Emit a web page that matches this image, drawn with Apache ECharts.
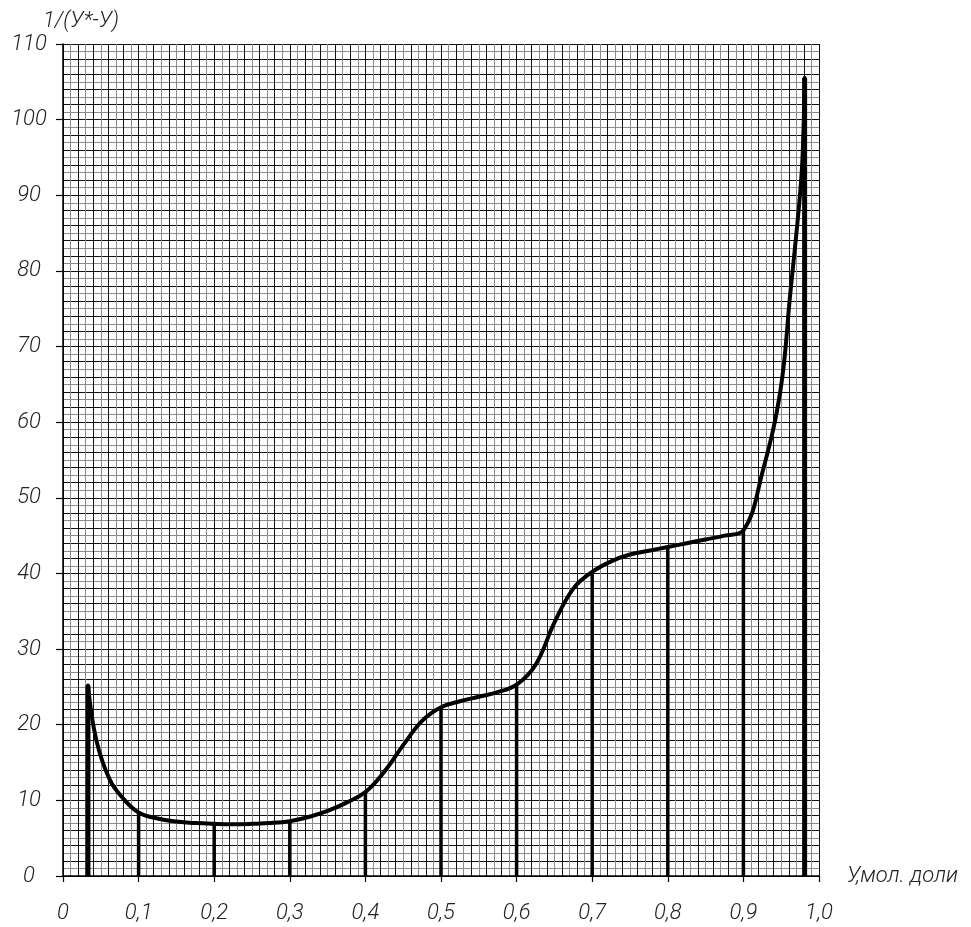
<!DOCTYPE html>
<html>
<head>
<meta charset="utf-8">
<script src="https://cdn.jsdelivr.net/npm/echarts@6/dist/echarts.min.js"></script>
<style>
html,body{margin:0;padding:0;background:#fff;}
#chart{width:971px;height:927px;}
</style>
</head>
<body>
<div id="chart"></div>
<script>
// Curve 1/(y*-y) versus y
const curveX = [0.033, 0.044, 0.062, 0.08, 0.1, 0.125, 0.15, 0.175, 0.2, 0.225, 0.25, 0.275, 0.3, 0.325, 0.35, 0.375, 0.4, 0.425, 0.45, 0.475, 0.5, 0.525, 0.55, 0.575, 0.6, 0.625, 0.65, 0.675, 0.7, 0.725, 0.75, 0.775, 0.8, 0.825, 0.85, 0.875, 0.9, 0.925, 0.949, 0.962, 0.973, 0.978, 0.981];
const curveY = [25.2, 18, 12.7, 10.2, 8.4, 7.6, 7.2, 7.0, 6.9, 6.85, 6.9, 7.0, 7.25, 7.8, 8.6, 9.7, 11.1, 13.8, 17.3, 20.5, 22.3, 23.1, 23.7, 24.3, 25.3, 27.9, 33.5, 38.0, 40.2, 41.6, 42.5, 43.0, 43.5, 44.0, 44.5, 45.0, 45.7, 53.3, 64.2, 77, 88, 94.6, 105.5];
// Vertical ordinates
const barX = [0.033, 0.1, 0.2, 0.3, 0.4, 0.5, 0.6, 0.7, 0.8, 0.9, 0.981];
const barTop = [25.2, 8.4, 6.9, 7.25, 11.1, 22.3, 25.3, 40.2, 43.5, 45.7, 105.5];
const xTickLabels = ['0', '0,1', '0,2', '0,3', '0,4', '0,5', '0,6', '0,7', '0,8', '0,9', '1,0'];
const yTitle = '1/(У*-У)';
const xTitle = 'У,мол. доли';

const FONT = "Roboto, 'DejaVu Sans', sans-serif";
const textStyle = {fontFamily: FONT, fontStyle: 'italic', fontWeight: 300, fontSize: 22, color: '#222'};

const chart = echarts.init(document.getElementById('chart'), null, {renderer: 'canvas'});
const gridColors = ['#111', '#8a8a8a'];

const option = {
  animation: false,
  backgroundColor: '#fff',
  grid: {left: 63, right: 152, top: 44, bottom: 51, containLabel: false},
  xAxis: [
    {
      type: 'value', min: 0, max: 1, interval: 0.1,
      name: xTitle, nameLocation: 'end', nameGap: 28,
      nameTextStyle: Object.assign({}, textStyle, {align: 'left', verticalAlign: 'middle', padding: [0, 0, 10, 0]}),
      axisLine: {show: true, onZero: false, lineStyle: {color: '#000', width: 1.5}},
      axisTick: {show: true, length: 6, lineStyle: {color: '#000', width: 1.2}},
      axisLabel: Object.assign({}, textStyle, {margin: 26, formatter: function (v) { return xTickLabels[Math.round(v * 10)]; }}),
      splitLine: {show: false}
    },
    {
      type: 'value', min: 0, max: 1, interval: 0.01, position: 'bottom',
      axisLine: {show: false}, axisTick: {show: false}, axisLabel: {show: false},
      splitLine: {show: true, lineStyle: {color: gridColors, width: 1}}
    }
  ],
  yAxis: [
    {
      type: 'value', min: 0, max: 110, interval: 10,
      name: yTitle, nameLocation: 'end', nameGap: 12,
      nameTextStyle: Object.assign({}, textStyle, {align: 'left', verticalAlign: 'bottom', padding: [0, 0, 0, -20]}),
      axisLine: {show: true, onZero: false, lineStyle: {color: '#000', width: 1.5}},
      axisTick: {show: true, length: 7, lineStyle: {color: '#000', width: 1.2}},
      axisLabel: Object.assign({}, textStyle, {margin: 34, align: 'center'}),
      splitLine: {show: false}
    },
    {
      type: 'value', min: 0, max: 110, interval: 1, position: 'left',
      axisLine: {show: false}, axisTick: {show: false}, axisLabel: {show: false},
      splitLine: {show: true, lineStyle: {color: gridColors, width: 1}}
    }
  ],
  series: [
    {
      type: 'custom',
      xAxisIndex: 0, yAxisIndex: 0,
      data: barX.map(function (x, i) { return [x, barTop[i]]; }),
      renderItem: function (params, api) {
        const p0 = api.coord([api.value(0), 0]);
        const p1 = api.coord([api.value(0), api.value(1)]);
        const last = barX.length - 1;
        const w = (params.dataIndex === 0 || params.dataIndex === last) ? 5 : 3.5;
        return {
          type: 'line',
          shape: {x1: p0[0], y1: p0[1], x2: p1[0], y2: p1[1]},
          style: {stroke: '#000', lineWidth: w}
        };
      },
      z: 5
    },
    {
      type: 'line',
      xAxisIndex: 0, yAxisIndex: 0,
      data: curveX.map(function (x, i) { return [x, curveY[i]]; }),
      smooth: 0.4,
      showSymbol: false,
      symbol: 'none',
      lineStyle: {color: '#000', width: 4, cap: 'round', join: 'round'},
      z: 6
    }
  ]
};
chart.setOption(option);
</script>
</body>
</html>
